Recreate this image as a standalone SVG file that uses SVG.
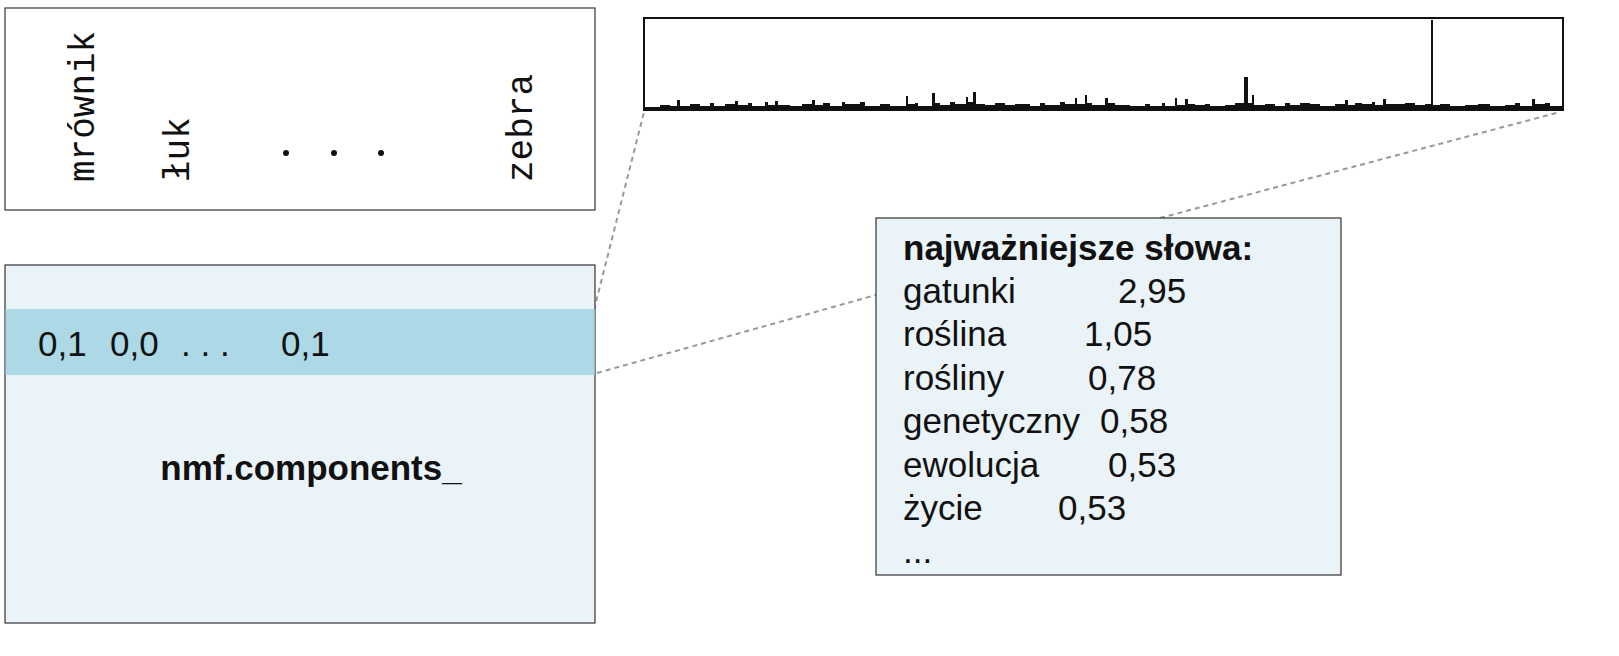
<svg xmlns="http://www.w3.org/2000/svg" width="1619" height="656" viewBox="0 0 1619 656">
<style>
.box{stroke:#333;stroke-width:1.2}
.mono{font-family:"Liberation Mono",monospace;font-size:36px;fill:#111}
.sans{font-family:"Liberation Sans",Arial,sans-serif;font-size:35px;fill:#111}
.dash{stroke:#999;stroke-width:2;stroke-dasharray:5,4;fill:none}
</style>
<rect width="1619" height="656" fill="#fff"/>
<g id="connectors">
<line class="dash" x1="594" y1="310" x2="644" y2="112"/>
<line class="dash" x1="597" y1="373" x2="876" y2="295"/>
<line class="dash" x1="1160" y1="218" x2="1560" y2="112"/>
</g>
<g id="vocab">
<rect class="box" x="5" y="8" width="590" height="202" fill="#fff"/>
<text class="mono" transform="translate(94,182) rotate(-90)">mrównik</text>
<text class="mono" transform="translate(189,182) rotate(-90)">łuk</text>
<text class="mono" transform="translate(532,182) rotate(-90)">zebra</text>
<circle cx="286" cy="153" r="3" fill="#111"/>
<circle cx="334" cy="153" r="3" fill="#111"/>
<circle cx="381" cy="153" r="3" fill="#111"/>
</g>
<g id="components">
<rect class="box" x="5" y="265" width="590" height="358" fill="#eaf3f7"/>
<rect x="5.6" y="309" width="589" height="66" fill="#add8e6"/>
<text class="sans" x="38" y="356">0,1</text>
<text class="sans" x="110" y="356">0,0</text>
<text class="sans" x="181" y="356">. . .</text>
<text class="sans" x="281" y="356">0,1</text>
<text class="sans" x="311" y="480" text-anchor="middle" font-weight="bold">nmf.components_</text>
</g>
<g id="histogram">
<rect x="644" y="18" width="919" height="92" fill="#fff" stroke="#111" stroke-width="2"/>
<path fill="#111" d="M645,110 V107 H660 V105 H670 V106 H677 V100 H680 V106 H690 V104 H700 V106 H710 V103 H714 V106 H725 V104 H735 V101 H738 V105 H748 V103 H752 V106 H765 V102 H768 V105 H775 V101 H778 V105 H790 V106 H802 V104 H812 V100 H815 V105 H823 V103 H830 V106 H842 V102 H845 V104 H860 V102 H865 V106 H880 V104 H890 V106 H906 V96 H908 V104 H915 V103 H918 V106 H932 V93 H935 V103 H940 V105 H950 V102 H955 V104 H966 V97 H968 V102 H973 V92 H976 V104 H985 V105 H995 V103 H1005 V105 H1015 V104 H1030 V106 H1040 V103 H1045 V105 H1060 V102 H1065 V104 H1075 V98 H1077 V104 H1085 V95 H1087 V103 H1092 V105 H1105 V98 H1108 V103 H1115 V105 H1130 V106 H1145 V104 H1150 V106 H1162 V103 H1165 V106 H1175 V98 H1177 V105 H1185 V99 H1188 V104 H1195 V105 H1205 V104 H1210 V106 H1225 V105 H1235 V103 H1244 V77 H1248 V103 H1252 V95 H1254 V105 H1265 V104 H1275 V106 H1285 V103 H1290 V105 H1300 V103 H1310 V104 H1320 V106 H1335 V104 H1345 V100 H1348 V105 H1355 V103 H1362 V104 H1372 V102 H1375 V105 H1383 V99 H1386 V104 H1395 V104 H1405 V103 H1415 V105 H1425 V104 H1431 V20 H1433 V105 H1440 V104 H1450 V106 H1465 V105 H1478 V104 H1490 V106 H1505 V105 H1515 V103 H1520 V106 H1532 V99 H1535 V104 H1545 V103 H1550 V106 H1562 V110 Z"/>
</g>
<g id="topwords">
<rect class="box" x="876" y="218" width="465" height="357" fill="#eaf3f7"/>
<text class="sans" x="903" y="260" font-weight="bold">najważniejsze słowa:</text>
<text class="sans" x="903" y="303">gatunki</text><text class="sans" x="1118" y="303">2,95</text>
<text class="sans" x="903" y="346">roślina</text><text class="sans" x="1084" y="346">1,05</text>
<text class="sans" x="903" y="390">rośliny</text><text class="sans" x="1088" y="390">0,78</text>
<text class="sans" x="903" y="433">genetyczny</text><text class="sans" x="1100" y="433">0,58</text>
<text class="sans" x="903" y="477">ewolucja</text><text class="sans" x="1108" y="477">0,53</text>
<text class="sans" x="903" y="520">życie</text><text class="sans" x="1058" y="520">0,53</text>
<text class="sans" x="903" y="563">...</text>
</g>
</svg>
